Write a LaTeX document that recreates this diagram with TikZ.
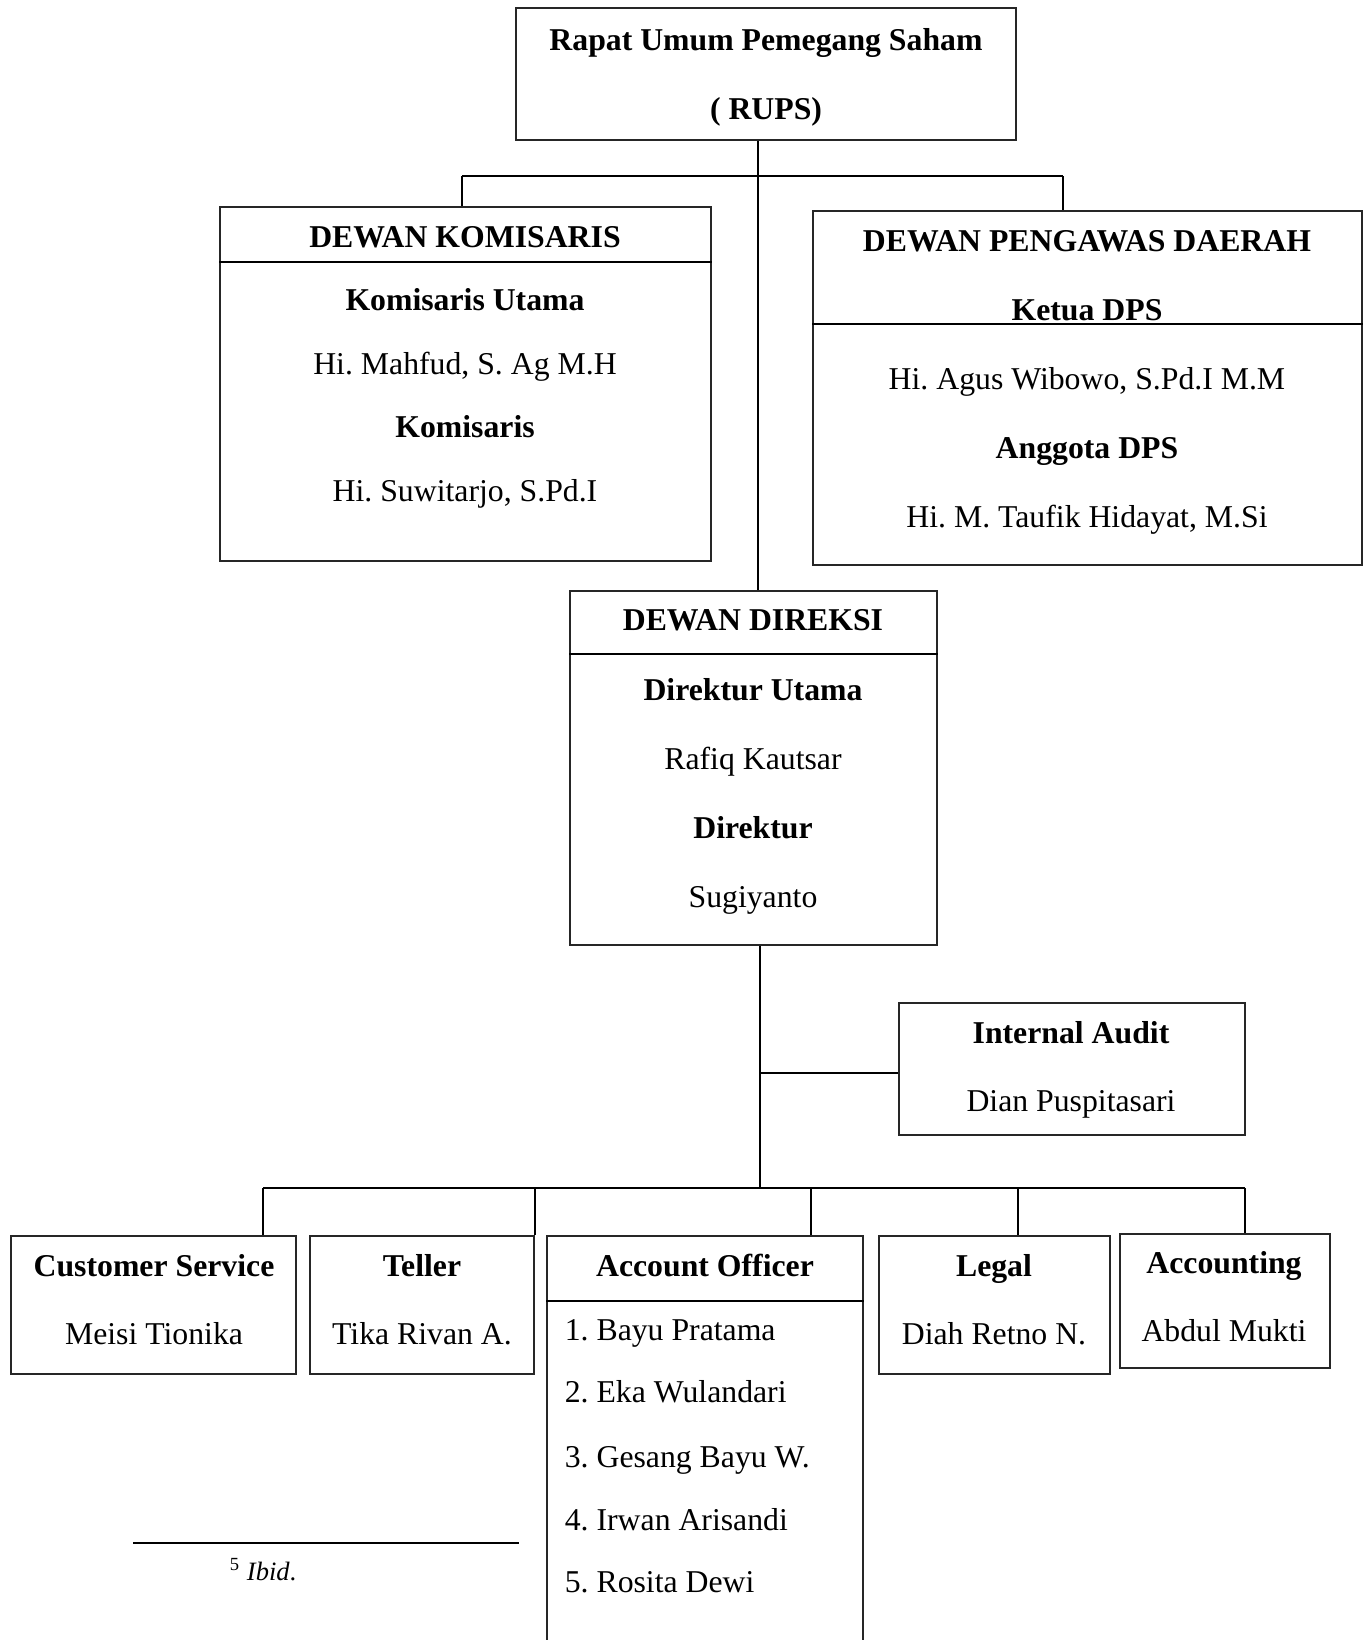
\documentclass[tikz,border=0pt]{standalone}
\usepackage{fontspec}
\setmainfont{Liberation Serif}
\usepackage{tikz}
\usetikzlibrary{positioning, fit, calc}
\frenchspacing

\begin{document}
\begin{tikzpicture}[
    x=0.4pt, y=-0.4pt,
    every node/.style={font=\fontsize{12.7}{15}\selectfont},
    boxline/.style={draw=black!85, line width=0.6pt, rectangle, inner sep=0pt},
    sep/.style={draw=black, line width=1pt},
    link/.style={draw=black, line width=0.6pt},
    bus/.style={draw=black, line width=1pt},
    title/.style={font=\fontsize{12.7}{15}\selectfont\bfseries, anchor=base},
    person/.style={font=\fontsize{12.7}{15}\selectfont, anchor=base}
]
\useasboundingbox (0,0) rectangle (1365,1640);
\clip (0,0) rectangle (1365,1640);

% Top: RUPS
\node[boxline, fit={(516,8) (1016,140)}] (rups) {};
\node[title] (rups-a) at (766,50) {Rapat Umum Pemegang Saham};
\node[title] (rups-b) at (766,119) {( RUPS)};

% Dewan Komisaris
\node[boxline, fit={(220,207) (711,561)}] (dk) {};
\draw[sep] (dk.west |- 0,262) -- (dk.east |- 0,262);
\foreach \y/\st/\txt in {247/title/DEWAN KOMISARIS, 310/title/Komisaris Utama, 374/person/{Hi. Mahfud, S. Ag M.H}, 437/title/Komisaris, 501/person/{Hi. Suwitarjo, S.Pd.I}}{
    \node[\st] (dk-\y) at (465,\y) {\txt};
}

% Dewan Pengawas Daerah
\node[boxline, fit={(813,211) (1362,565)}] (dpd) {};
\draw[sep] (dpd.west |- 0,324) -- (dpd.east |- 0,324);
\foreach \y/\st/\txt in {251/title/DEWAN PENGAWAS DAERAH, 320/title/Ketua DPS, 389/person/{Hi. Agus Wibowo, S.Pd.I M.M}, 458/title/Anggota DPS, 527/person/{Hi. M. Taufik Hidayat, M.Si}}{
    \node[\st] (dpd-\y) at (1087,\y) {\txt};
}

% Dewan Direksi
\node[boxline, fit={(570,591) (937,945)}] (dd) {};
\draw[sep] (dd.west |- 0,654) -- (dd.east |- 0,654);
\foreach \y/\st/\txt in {630/title/DEWAN DIREKSI, 700/title/Direktur Utama, 769/person/Rafiq Kautsar, 838/title/Direktur, 907/person/Sugiyanto}{
    \node[\st] (dd-\y) at (753,\y) {\txt};
}

% Internal Audit
\node[boxline, fit={(899,1003) (1245,1135)}] (ia) {};
\node[title] (ia-t) at (1071,1043) {Internal Audit};
\node[person] (ia-n) at (1071,1111) {Dian Puspitasari};

% connectors, upper part
\coordinate (trunk) at (758,0);
\coordinate (kL) at (462,176);
\coordinate (kR) at (1063,176);
\draw[link] (rups.south -| trunk) -- (dd.north -| trunk);
\draw[bus] (kL) -- (kR);
\draw[link] (kL) -- (kL |- dk.north);
\draw[link] (kR) -- (kR |- dpd.north);

% Bottom row: units
\foreach \nm/\xa/\xb/\xc/\ttl/\who in {cs/11/296/154/Customer Service/Meisi Tionika, tel/310/534/422/Teller/Tika Rivan A., leg/879/1110/994/Legal/Diah Retno N.}{
    \node[boxline, fit={(\xa,1236) (\xb,1374)}] (\nm) {};
    \node[title] (\nm-t) at (\xc,1276) {\ttl};
    \node[person] (\nm-n) at (\xc,1344) {\who};
}
\node[boxline, fit={(1120,1234) (1330,1368)}] (acc) {};
\node[title] (acc-t) at (1224,1273) {Accounting};
\node[person] (acc-n) at (1224,1341) {Abdul Mukti};

% Account Officer, runs off the page
\node[boxline, fit={(547,1236) (863,1700)}] (ao) {};
\draw[sep] (ao.west |- 0,1301) -- (ao.east |- 0,1301);
\node[title] (ao-t) at (705,1276) {Account Officer};
\foreach \y/\txt in {1340/1. Bayu Pratama, 1402/2. Eka Wulandari, 1467/3. Gesang Bayu W., 1530/4. Irwan Arisandi, 1592/5. Rosita Dewi}{
    \node[person, anchor=base west] (ao-\y) at (556,\y) {\txt};
}

% connectors, lower part
\coordinate (mid) at (760,1188);
\coordinate (dL) at (263,1188);
\coordinate (dR) at (1245,1188);
\draw[link] (dd.south -| mid) -- (mid);
\draw[bus] (mid |- 0,1073) -- (ia.west |- 0,1073);
\draw[bus] (dL) -- (dR);
\foreach \nm/\x in {cs/263, tel/535, ao/811, leg/1018, acc/1245}{
    \draw[link] (\x,1188) -- (\x,0 |- \nm.north);
}

% footnote
\coordinate (fnL) at (133,1543);
\coordinate (fnR) at (519,1543);
\draw[line width=1.1pt] (fnL) -- (fnR);
\node[anchor=base west, font=\fontsize{10.6}{12}\selectfont] (fn) at (221,1580) {\textsuperscript{5} \textit{Ibid}.};
\end{tikzpicture}
\end{document}
